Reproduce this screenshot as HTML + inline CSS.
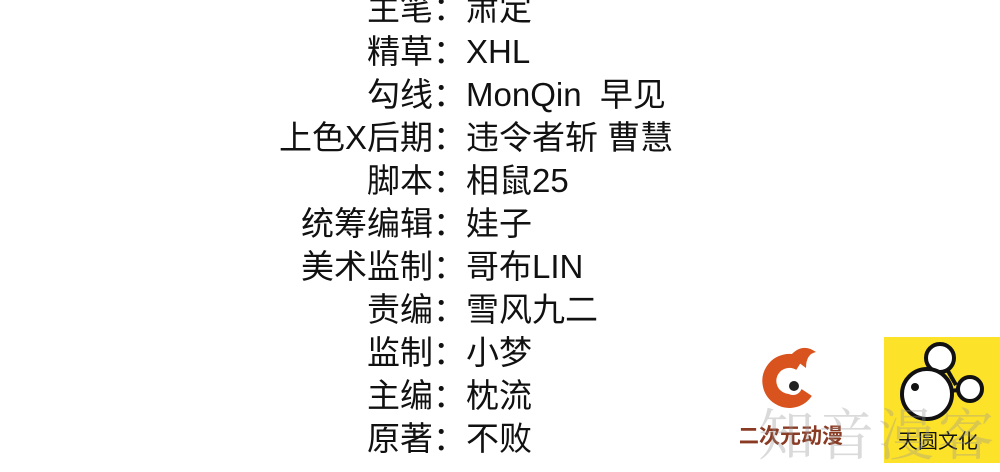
<!DOCTYPE html>
<html><head><meta charset="utf-8"><style>
body{margin:0;width:1000px;height:469px;background:#fff;overflow:hidden;position:relative;font-family:"Liberation Sans","Noto Sans CJK SC",sans-serif;color:#111}
.r{position:absolute;left:0;width:1000px;height:43px;font-size:33px;line-height:43px}
.l{position:absolute;right:534px;white-space:nowrap}
.v{position:absolute;left:466px;white-space:nowrap}
.wm{position:absolute;left:758px;top:392px;font-size:56px;color:rgba(150,150,150,0.35);letter-spacing:4px;font-family:"Noto Serif CJK SC",serif;white-space:nowrap}
</style></head><body>
<div class="r" style="top:-13px"><span class="l">主笔：</span><span class="v">肃定</span></div>
<div class="r" style="top:30px"><span class="l">精草：</span><span class="v">XHL</span></div>
<div class="r" style="top:73px"><span class="l">勾线：</span><span class="v">MonQin&nbsp; 早见</span></div>
<div class="r" style="top:116px"><span class="l">上色X后期：</span><span class="v">违令者斩 曹慧</span></div>
<div class="r" style="top:159px"><span class="l">脚本：</span><span class="v">相鼠25</span></div>
<div class="r" style="top:202px"><span class="l">统筹编辑：</span><span class="v">娃子</span></div>
<div class="r" style="top:245px"><span class="l">美术监制：</span><span class="v">哥布LIN</span></div>
<div class="r" style="top:288px"><span class="l">责编：</span><span class="v">雪风九二</span></div>
<div class="r" style="top:331px"><span class="l">监制：</span><span class="v">小梦</span></div>
<div class="r" style="top:374px"><span class="l">主编：</span><span class="v">枕流</span></div>
<div class="r" style="top:417px"><span class="l">原著：</span><span class="v">不败</span></div>

<svg style="position:absolute;left:740px;top:330px" width="120" height="139">
<path d="M60 34 A20 20 0 1 0 66 62" fill="none" stroke="#d9531e" stroke-width="14"/>
<path d="M50 26 Q62 12 76 22 Q66 24 66 38 Z" fill="#d9531e"/>
<circle cx="53" cy="56" r="9" fill="#fff"/><circle cx="54" cy="56" r="5" fill="#222"/>
<text x="-2" y="113" font-size="21" font-weight="bold" fill="#8a3a22" font-family="Noto Sans CJK SC,sans-serif">二次元动漫</text>
</svg>
<div style="position:absolute;left:884px;top:337px;width:116px;height:126px;background:#fde22a"></div>
<svg style="position:absolute;left:884px;top:337px" width="116" height="126">
<g fill="#fff" stroke="#111" stroke-width="4">
<line x1="56" y1="20" x2="72" y2="48"/><line x1="43" y1="56" x2="86" y2="52"/>
<circle cx="56" cy="21" r="14"/><circle cx="86" cy="52" r="12"/><circle cx="43" cy="57" r="25"/>
</g><circle cx="31" cy="50" r="4" fill="#111"/>
<text x="14" y="111" font-size="20" fill="#111" font-family="Noto Sans CJK SC,sans-serif">天圆文化</text>
</svg>
<div class="wm">知音漫客</div>
</body></html>
